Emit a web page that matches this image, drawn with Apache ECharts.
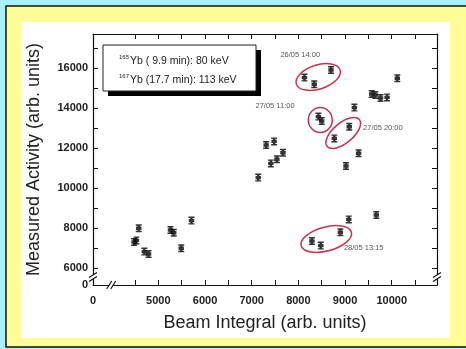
<!DOCTYPE html>
<html>
<head>
<meta charset="utf-8">
<script src="https://cdn.jsdelivr.net/npm/echarts@6/dist/echarts.min.js"></script>
<style>
html, body { margin: 0; padding: 0; background: #a9f2fd; }
#chart { width: 466px; height: 349px; }
</style>
</head>
<body>
<div id="chart"></div>
<script>
// beam integral vs measured activity
var beam = [4480, 4530, 4580, 4700, 4790, 5260, 5330, 5490, 5710,
    7140, 7310, 7480, 7410, 7540, 7670,
    8130, 8340, 8700, 8430, 8500, 8770, 9090, 9200, 9020, 9290,
    9570, 9650, 9760, 9900, 10120, 9670, 9080, 8900, 8290, 8480];
var activity = [7300, 7380, 7990, 6820, 6700, 7900, 7760, 6990, 8370,
    10520, 12150, 12330, 11230, 11440, 11760,
    15520, 15190, 15900, 13570, 13350, 12480, 13060, 14020, 11100, 11740,
    14700, 14650, 14500, 14530, 15490, 8650, 8430, 7790, 7350, 7120];

var xTicks = [4500, 5000, 5500, 6000, 6500, 7000, 7500, 8000, 8500, 9000, 9500, 10000, 10500];
var xLabels = [3600, 5000, 6000, 7000, 8000, 9000, 10000];
var yTicks = [6000, 7000, 8000, 9000, 10000, 11000, 12000, 13000, 14000, 15000, 16000, 17000];
var yLabels = [5150, 6000, 8000, 10000, 12000, 14000, 16000];

// circled groups: [x, y, rx, ry, rotation deg]
var rings = [[8426, 15550, 23, 12, 18], [8469, 13400, 12, 12.5, 0], [8961, 12750, 21, 10, 40], [8597, 7450, 26, 12, 15]];
var notes = [['26/05 14:00', 8040, 16650], ['27/05 11:00', 7500, 14100], ['27/05 20:00', 9810, 13000], ['28/05 13:15', 9400, 7000]];

var points = beam.map(function (b, i) { return [b, activity[i]]; });

var myChart = echarts.init(document.getElementById('chart'));
var lblFont = { fontFamily: 'Liberation Sans', fontWeight: 'bold', fontSize: 11, color: '#222' };
var axisLineStyle = { show: true, lineStyle: { color: '#111', width: 1.2 } };

function xAx(pos, showLbl) {
    return {
        type: 'value', position: pos, min: 3600, max: 10970,
        axisLine: axisLineStyle, splitLine: { show: false },
        axisTick: { inside: true, length: 5, customValues: xTicks, lineStyle: { color: '#111' } },
        axisLabel: Object.assign({
            show: showLbl, margin: 10, customValues: xLabels,
            formatter: function (v) { return v < 4000 ? '0' : String(v); }
        }, lblFont),
        name: showLbl ? 'Beam Integral (arb. units)' : '', nameLocation: 'middle', nameGap: 29,
        nameTextStyle: { fontFamily: 'Liberation Sans', fontSize: 18, color: '#222' }
    };
}
function yAx(pos, showLbl) {
    return {
        type: 'value', position: pos, min: 5150, max: 17700,
        axisLine: axisLineStyle, splitLine: { show: false },
        axisTick: { inside: true, length: 5, customValues: yTicks, lineStyle: { color: '#111' } },
        axisLabel: Object.assign({
            show: showLbl, margin: 5, customValues: yLabels,
            formatter: function (v) { return v < 6000 ? '0' : String(v); }
        }, lblFont),
        name: showLbl ? 'Measured Activity (arb. units)' : '', nameLocation: 'middle', nameGap: 50,
        nameTextStyle: { fontFamily: 'Liberation Sans', fontSize: 18, color: '#222' }
    };
}

option = {
    backgroundColor: '#a9f2fd',
    animation: false,
    grid: { left: 93, right: 29, top: 34, bottom: 64 },
    xAxis: [xAx('bottom', true), xAx('top', false)],
    yAxis: [yAx('left', true), yAx('right', false)],
    series: [{
        type: 'scatter',
        data: points,
        symbol: 'path://M0,0H10V2.5H7V4H9.5V10H7V11.5H10V14H0V11.5H3V10H0.5V4H3V2.5H0Z',
        symbolSize: [6, 8],
        itemStyle: { color: '#000' },
        z: 5
    }]
};
myChart.setOption(option);

// decorations placed from data coordinates
var g = [
    { type: 'rect', z: -10, silent: true, shape: { x: 6, y: 6, width: 470, height: 341 }, style: { fill: '#fffd98', stroke: '#111', lineWidth: 1.5 } },
    { type: 'rect', z: -9, silent: true, shape: { x: 21, y: 22, width: 429, height: 316 }, style: { fill: '#ffffff' } },
    // legend box
    { type: 'rect', z: 10, shape: { x: 108, y: 50, width: 153, height: 46 }, style: { fill: '#000' } },
    { type: 'rect', z: 11, shape: { x: 103, y: 45, width: 153, height: 46 }, style: { fill: '#fff', stroke: '#222', lineWidth: 1 } },
    {
        type: 'text', z: 12, x: 119, y: 52, style: {
            text: '{s|165}{t|Yb ( 9.9 min): 80 keV}\n{s|167}{t|Yb (17.7 min): 113 keV}',
            lineHeight: 19,
            rich: {
                s: { fontSize: 6, fontFamily: 'Liberation Sans', fill: '#222', padding: [0, 1, 8, 0], lineHeight: 19 },
                t: { fontSize: 10.5, fontFamily: 'Liberation Sans', fill: '#222', lineHeight: 19 }
            }
        }
    }
];
rings.forEach(function (r) {
    var p = myChart.convertToPixel({ gridIndex: 0 }, [r[0], r[1]]);
    g.push({
        type: 'ellipse', z: 6, x: p[0], y: p[1], rotation: r[4] * Math.PI / 180,
        shape: { cx: 0, cy: 0, rx: r[2], ry: r[3] },
        style: { fill: null, stroke: '#c8324e', lineWidth: 1.5 }
    });
});
notes.forEach(function (n) {
    var p = myChart.convertToPixel({ gridIndex: 0 }, [n[1], n[2]]);
    g.push({
        type: 'text', z: 6, x: p[0], y: p[1],
        style: { text: n[0], fontSize: 7.5, fontFamily: 'Liberation Sans', fill: '#555', align: 'center', verticalAlign: 'middle' }
    });
});
// axis break marks
var bx = myChart.convertToPixel({ gridIndex: 0 }, [3990, 5150]);
var by = myChart.convertToPixel({ gridIndex: 0 }, [3600, 5550]);
var top = myChart.convertToPixel({ gridIndex: 0 }, [4050, 17700]);
var rgt = myChart.convertToPixel({ gridIndex: 0 }, [10970, 5550]);
function xBreak(x, y) {
    g.push({ type: 'rect', z: 20, shape: { x: x - 2, y: y - 2, width: 4, height: 4 }, style: { fill: '#fff' } });
    [-2, 2].forEach(function (d) {
        g.push({ type: 'line', z: 21, shape: { x1: x + d - 2.5, y1: y + 4, x2: x + d + 2.5, y2: y - 4 }, style: { stroke: '#111', lineWidth: 1.2 } });
    });
}
function yBreak(x, y) {
    g.push({ type: 'rect', z: 20, shape: { x: x - 2, y: y - 2, width: 4, height: 4 }, style: { fill: '#fff' } });
    [-2, 2].forEach(function (d) {
        g.push({ type: 'line', z: 21, shape: { x1: x - 4, y1: y + d + 2.5, x2: x + 4, y2: y + d - 2.5 }, style: { stroke: '#111', lineWidth: 1.2 } });
    });
}
xBreak(bx[0], bx[1]);
xBreak(top[0], top[1]);
yBreak(by[0], by[1]);
yBreak(rgt[0], rgt[1]);

myChart.setOption({ graphic: g });
</script>
</body>
</html>
